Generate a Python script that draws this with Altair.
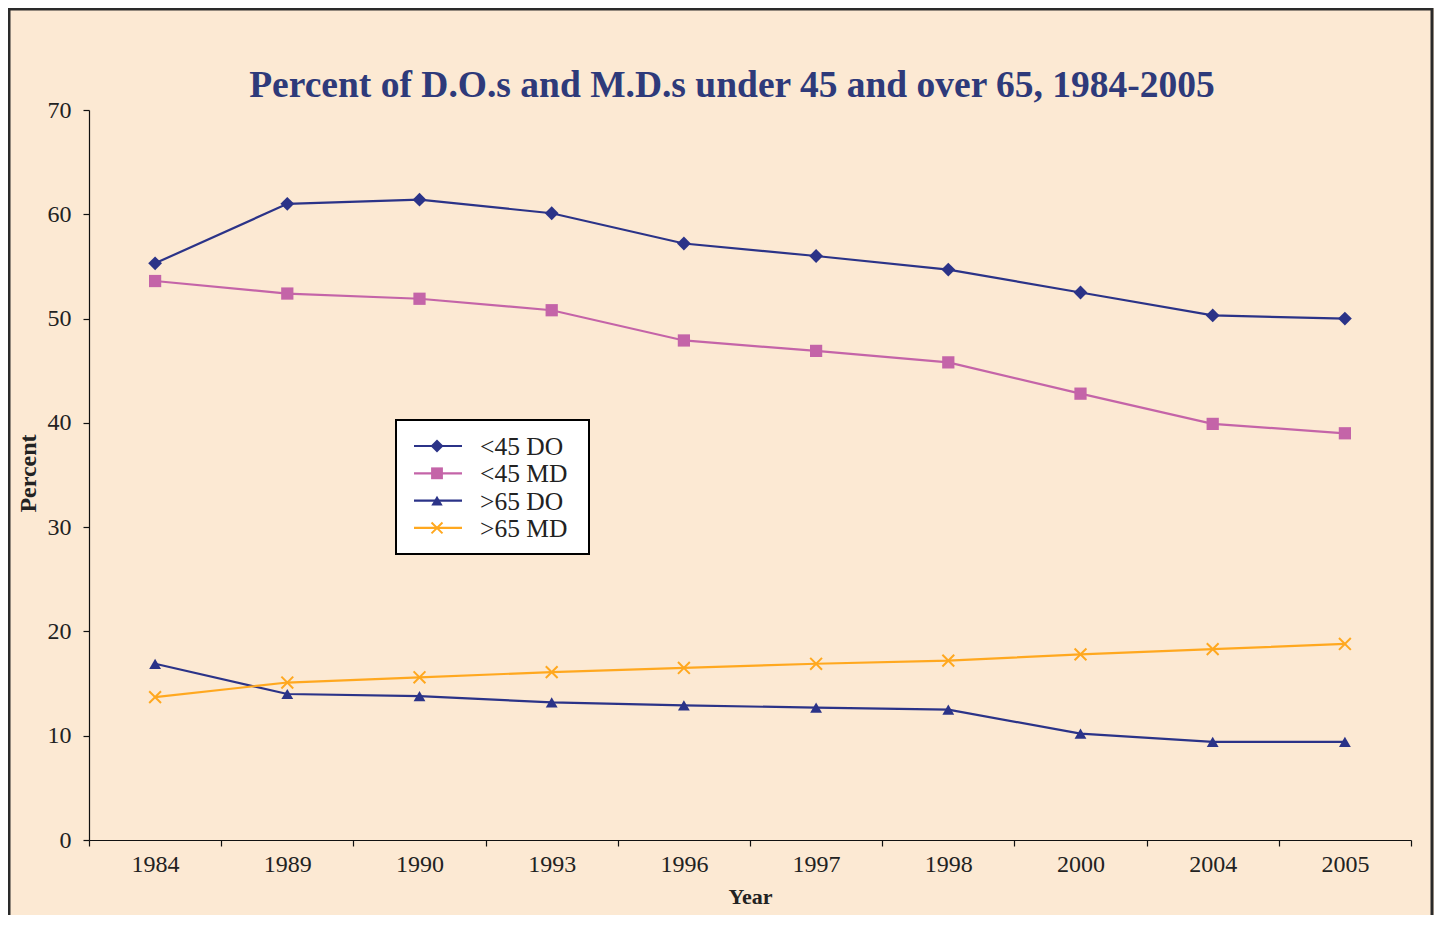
import altair as alt
import pandas as pd

years = ["1984", "1989", "1990", "1993", "1996", "1997", "1998", "2000", "2004", "2005"]
do_under45 = [55.3, 61.0, 61.4, 60.1, 57.2, 56.0, 54.7, 52.5, 50.3, 50.0]
md_under45 = [53.6, 52.4, 51.9, 50.8, 47.9, 46.9, 45.8, 42.8, 39.9, 39.0]
do_over65 = [16.9, 14.0, 13.8, 13.2, 12.9, 12.7, 12.5, 10.2, 9.4, 9.4]
md_over65 = [13.7, 15.1, 15.6, 16.1, 16.5, 16.9, 17.2, 17.8, 18.3, 18.8]

series_names = ["<45 DO", "<45 MD", ">65 DO", ">65 MD"]
series_colors = ["#2B3388", "#C464A8", "#2B3388", "#FFA81F"]
y_ticks = [0, 10, 20, 30, 40, 50, 60, 70]
title_text = "Percent of D.O.s and M.D.s under 45 and over 65, 1984-2005"

FONT = "Liberation Serif"
BG = "#FCE9D3"
X_PATH = "M-1,-1L1,1M-1,1L1,-1"

rows = []
for name, vals in zip(series_names, [do_under45, md_under45, do_over65, md_over65]):
    for yr, v in zip(years, vals):
        rows.append({"year": yr, "value": v, "series": name})
df = pd.DataFrame(rows)

x_enc = alt.X(
    "year:N",
    sort=years,
    bandPosition=0.5,
    scale=alt.Scale(type="band", domain=years, paddingInner=0, paddingOuter=0),
    axis=alt.Axis(
        title="Year", tickBand="extent", labelAngle=0, tickSize=6, labelPadding=6,
        labelFont=FONT, labelFontSize=24, labelColor="#222222",
        domainColor="#111111", tickColor="#111111", domainWidth=1.2, tickWidth=1.2,
        titleFont=FONT, titleFontSize=22, titleFontWeight="bold", titleColor="#222222",
        titleBaseline="alphabetic", titleY=63,
    ),
)
y_enc = alt.Y(
    "value:Q",
    scale=alt.Scale(domain=[0, 70], nice=False, zero=True),
    axis=alt.Axis(
        title="Percent", values=y_ticks, grid=False, tickSize=6, labelPadding=12,
        labelFont=FONT, labelFontSize=24, labelColor="#222222",
        domainColor="#111111", tickColor="#111111", domainWidth=1.2, tickWidth=1.2,
        titleFont=FONT, titleFontSize=24, titleFontWeight="bold", titleColor="#222222",
        titleX=-49, titleY=363, titleBaseline="bottom", titleAlign="center", titleAngle=270,
    ),
)
color_enc = alt.Color("series:N", scale=alt.Scale(domain=series_names, range=series_colors), legend=None)

base = alt.Chart(df)

lines = base.mark_line(strokeWidth=2.2).encode(x=x_enc, y=y_enc, color=color_enc, detail="series:N")

shape_names = ["diamond", "square", "triangle-up"]
shape_sizes = [190, 150, 140]
filled_layers = []
for name, shp, sz in zip(series_names[:3], shape_names, shape_sizes):
    filled_layers.append(
        base.transform_filter(alt.datum.series == name)
        .mark_point(shape=shp, filled=True, size=sz, opacity=1)
        .encode(x=x_enc, y=y_enc, color=color_enc)
    )
x_layer = (
    base.transform_filter(alt.datum.series == series_names[3])
    .mark_point(shape=X_PATH, filled=False, size=140, strokeWidth=2, opacity=1)
    .encode(x=x_enc, y=y_enc, color=color_enc)
)

dummy = pd.DataFrame({"a": [0]})
border = alt.Chart(dummy).mark_rect(fillOpacity=0, stroke="#2A2A2A", strokeWidth=3).encode(
    x=alt.value(-80), x2=alt.value(1343), y=alt.value(-101), y2=alt.value(850)
)
title_mark = alt.Chart(dummy).mark_text(
    align="center", baseline="alphabetic", font=FONT, fontSize=37.5, fontWeight="bold", color="#2E3A7A"
).encode(x=alt.value(643), y=alt.value(-13), text=alt.value(title_text))

legend_layers = [
    alt.Chart(dummy).mark_rect(fill="white", stroke="black", strokeWidth=2).encode(
        x=alt.value(307), x2=alt.value(500), y=alt.value(310), y2=alt.value(444)
    )
]
legend_shapes = ["diamond", "square", "triangle-up", X_PATH]
for i, (name, col, shp) in enumerate(zip(series_names, series_colors, legend_shapes)):
    yy = 336 + 27.3 * i
    legend_layers.append(
        alt.Chart(dummy).mark_rule(color=col, strokeWidth=2.2).encode(
            x=alt.value(325), x2=alt.value(373), y=alt.value(yy)
        )
    )
    if shp == X_PATH:
        pt = alt.Chart(dummy).mark_point(shape=shp, filled=False, size=120, strokeWidth=2, color=col, opacity=1)
    else:
        pt = alt.Chart(dummy).mark_point(shape=shp, filled=True, size=[170, 140, 130][i], color=col, opacity=1)
    legend_layers.append(pt.encode(x=alt.value(348), y=alt.value(yy)))
    legend_layers.append(
        alt.Chart(dummy).mark_text(align="left", baseline="middle", font=FONT, fontSize=25.5, color="#222222").encode(
            x=alt.value(391), y=alt.value(yy + 1), text=alt.value(name)
        )
    )

chart = (
    alt.layer(border, title_mark, lines, *filled_layers, x_layer, *legend_layers)
    .properties(
        width=1322,
        height=730,
        padding={"left": 81, "top": 102, "right": 23, "bottom": 75},
        autosize=alt.AutoSizeParams(type="none"),
        background=BG,
    )
    .configure_view(stroke=None)
)

chart.save("out.html", embed_options={"renderer": "svg", "actions": False})
